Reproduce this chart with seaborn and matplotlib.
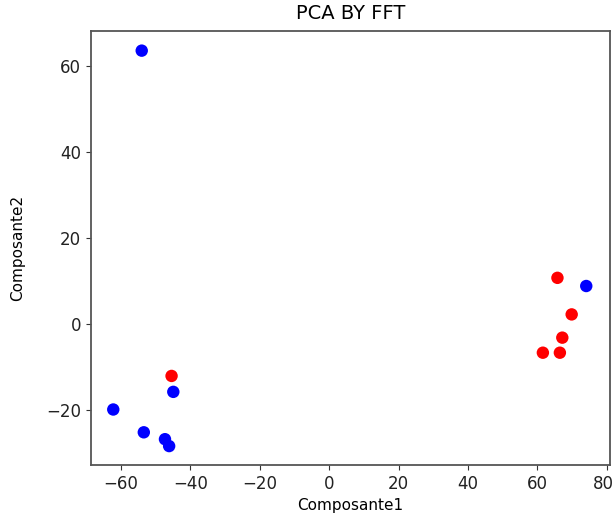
import matplotlib
matplotlib.use("Agg")
import matplotlib.pyplot as plt
import matplotlib.transforms as mtransforms
import pandas as pd
import seaborn as sns

# values
comp1 = [-54.0, -62.2, -53.4, -47.3, -46.1, -44.9, 74.1,
         -45.4, 65.8, 69.9, 67.2, 61.6, 66.5]
comp2 = [63.6, -19.8, -25.1, -26.7, -28.3, -15.7, 8.9,
         -12.0, 10.8, 2.3, -3.1, -6.6, -6.6]
groups = ["A"] * 7 + ["B"] * 6
palette = {"A": "blue", "B": "red"}


def main():
    df = pd.DataFrame({"Composante1": comp1, "Composante2": comp2,
                       "group": groups})

    fig = plt.figure(figsize=(6.15, 5.18), dpi=100)
    ax = fig.add_axes([0.1475, 0.1023, 0.8444, 0.8369])

    sns.scatterplot(data=df, x="Composante1", y="Composante2", hue="group",
                    palette=palette, s=80, linewidth=0, legend=False, ax=ax)

    ax.set_xlim(-68.7, 80.95)
    ax.set_ylim(-32.7, 68.05)
    ax.set_xticks(range(-60, 81, 20))
    ax.set_yticks(range(-20, 61, 20))
    ax.tick_params(labelsize=12, colors="#333333", labelcolor="#222222")
    for sp in ax.spines.values():
        sp.set_color("#555555")
        sp.set_linewidth(1.3)

    # last x tick label sits right at the figure edge, nudge it inside
    last = ax.get_xticklabels()[-1]
    shift = mtransforms.ScaledTranslation(-3 / 100, 0, fig.dpi_scale_trans)
    last.set_transform(last.get_transform() + shift)

    ax.set_xlabel("Composante1", fontsize=11)
    ax.set_ylabel("Composante2", fontsize=11)
    ax.xaxis.set_label_coords(0.5, -0.076)
    ax.yaxis.set_label_coords(-0.127, 0.5)
    ax.set_title("PCA BY FFT", fontsize=14, pad=9)

    plt.savefig("out.png", dpi=100)
    plt.close()


if __name__ == '__main__':
    main()
